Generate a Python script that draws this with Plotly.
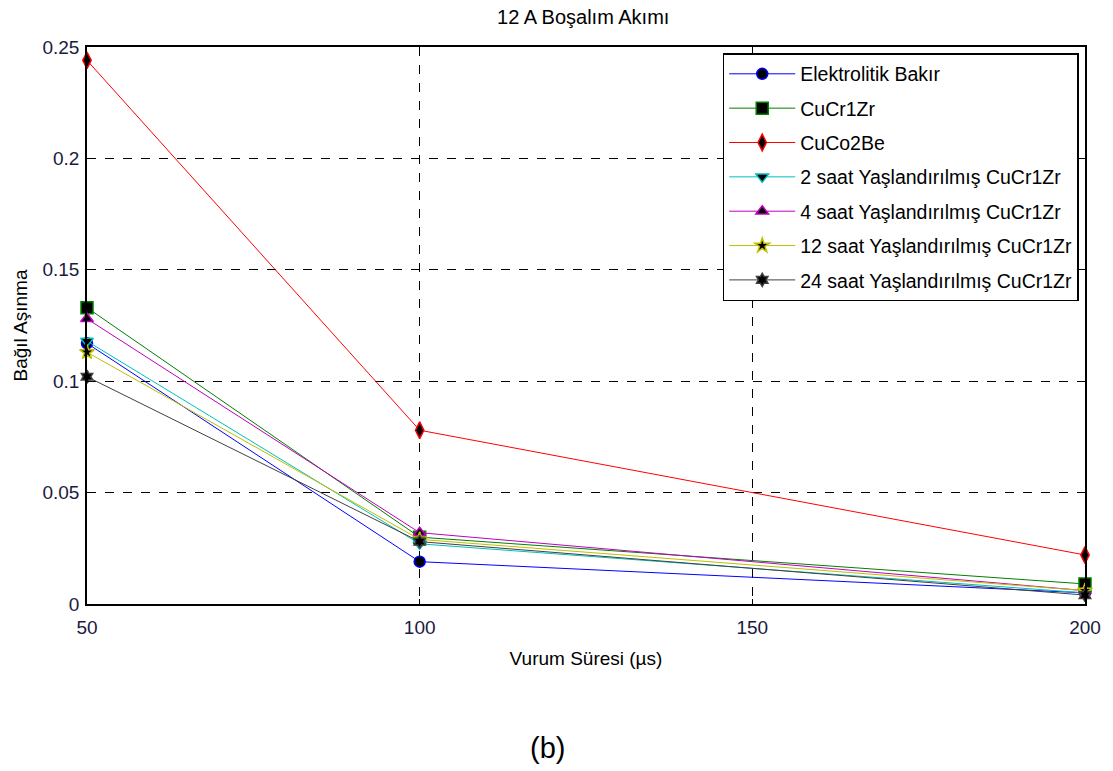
import plotly.graph_objects as go

# Pulse duration (µs)
pulse = [50, 100, 200]

series_names = [
    "Elektrolitik Bakır",
    "CuCr1Zr",
    "CuCo2Be",
    "2 saat Yaşlandırılmış CuCr1Zr",
    "4 saat Yaşlandırılmış CuCr1Zr",
    "12 saat Yaşlandırılmış CuCr1Zr",
    "24 saat Yaşlandırılmış CuCr1Zr",
]

# Relative wear for each material
elektrolitik = [0.117, 0.019, 0.005]
cucr1zr = [0.133, 0.030, 0.009]
cuco2be = [0.244, 0.078, 0.022]
saat2 = [0.118, 0.027, 0.005]
saat4 = [0.128, 0.032, 0.006]
saat12 = [0.113, 0.029, 0.006]
saat24 = [0.102, 0.028, 0.004]

values = [elektrolitik, cucr1zr, cuco2be, saat2, saat4, saat12, saat24]
colors = ["#0000FF", "#008000", "#FF0000", "#00BFBF", "#BF00BF", "#BFBF00", "#404040"]
symbols = ["circle", "square", "diamond-tall", "triangle-down", "triangle-up", "star", "hexagram"]
sizes = [11, 12, 12, 11, 11, 11, 10]

fig = go.Figure()
for i, (name, ys) in enumerate(zip(series_names, values)):
    fig.add_trace(go.Scatter(
        x=pulse, y=ys, name=name, mode="lines+markers",
        legendgroup=f"g{i}",
        line=dict(color=colors[i], width=1),
        marker=dict(symbol=symbols[i], size=sizes[i], color="black",
                    line=dict(color=colors[i], width=1.5)),
        cliponaxis=False,
    ))

font = "Arial, Liberation Sans, sans-serif"
axis_common = dict(
    showline=True, mirror=True, linecolor="black", linewidth=1.5,
    ticks="inside", ticklen=5, tickcolor="black",
    showgrid=True, gridcolor="black", griddash="dash", gridwidth=1,
    zeroline=False,
    tickfont=dict(family=font, size=19, color="#1a1a40"),
)

fig.update_layout(
    width=1113, height=771,
    paper_bgcolor="white", plot_bgcolor="white",
    margin=dict(l=87, r=26, t=47, b=167),
    font=dict(family=font, size=19, color="black"),
    title=dict(text="12 A Boşalım Akımı", x=0.524, xanchor="center",
               y=0.978, yanchor="middle",
               font=dict(family=font, size=20, color="black")),
    xaxis=dict(range=[50, 200], tickvals=[50, 100, 150, 200],
               ticklabelstandoff=5,
               title=dict(text="Vurum Süresi (µs)", standoff=15,
                          font=dict(family=font, size=19)),
               **axis_common),
    yaxis=dict(range=[0, 0.25], tickvals=[0, 0.05, 0.1, 0.15, 0.2, 0.25],
               ticktext=["0", "0.05", "0.1", "0.15", "0.2", "0.25"],
               ticklabelstandoff=2,
               title=dict(text="Bağıl Aşınma", standoff=10,
                          font=dict(family=font, size=19)),
               **axis_common),
    legend=dict(x=0.637, y=0.989, xanchor="left", yanchor="top",
                bgcolor="white", bordercolor="black", borderwidth=1.5,
                tracegroupgap=6, itemwidth=66,
                font=dict(family=font, size=19.5, color="black")),
    showlegend=True,
)

fig.add_annotation(text="(b)", xref="paper", yref="paper",
                   x=0.461, y=-0.2585, xanchor="center", yanchor="middle",
                   showarrow=False,
                   font=dict(family=font, size=29, color="black"))

fig.write_html("out.html")
